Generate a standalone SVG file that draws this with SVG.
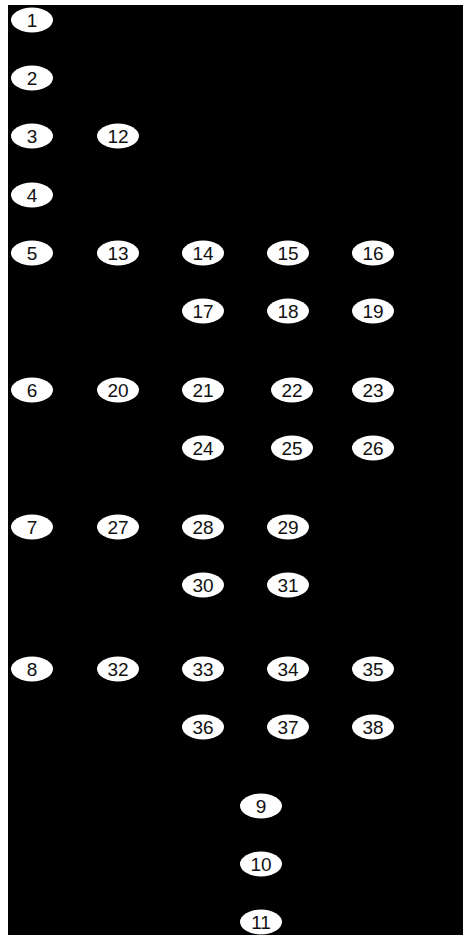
<svg xmlns="http://www.w3.org/2000/svg" width="463" height="935" viewBox="0 0 463 935">
<style>
.n ellipse{fill:#fff;stroke:none}
.n text{font-family:"Liberation Sans",Arial,sans-serif;font-size:19px;fill:#111;text-anchor:middle;dominant-baseline:central}
</style>
<rect x="0" y="0" width="463" height="935" fill="#fff"/>
<rect x="8" y="5" width="455" height="930" fill="#000"/>
<g id="connectors"></g>
<g id="n1" class="n"><ellipse cx="32" cy="20" rx="21" ry="12.5"/><text x="32" y="20">1</text></g>
<g id="n2" class="n"><ellipse cx="32" cy="78" rx="21" ry="12.5"/><text x="32" y="78">2</text></g>
<g id="n3" class="n"><ellipse cx="32" cy="136" rx="21" ry="12.5"/><text x="32" y="136">3</text></g>
<g id="n4" class="n"><ellipse cx="32" cy="195" rx="21" ry="12.5"/><text x="32" y="195">4</text></g>
<g id="n5" class="n"><ellipse cx="32" cy="253" rx="21" ry="12.5"/><text x="32" y="253">5</text></g>
<g id="n6" class="n"><ellipse cx="32" cy="390" rx="21" ry="12.5"/><text x="32" y="390">6</text></g>
<g id="n7" class="n"><ellipse cx="32" cy="527" rx="21" ry="12.5"/><text x="32" y="527">7</text></g>
<g id="n8" class="n"><ellipse cx="32" cy="669" rx="21" ry="12.5"/><text x="32" y="669">8</text></g>
<g id="n12" class="n"><ellipse cx="118" cy="136" rx="21" ry="12.5"/><text x="118" y="136">12</text></g>
<g id="n13" class="n"><ellipse cx="118" cy="253" rx="21" ry="12.5"/><text x="118" y="253">13</text></g>
<g id="n20" class="n"><ellipse cx="118" cy="390" rx="21" ry="12.5"/><text x="118" y="390">20</text></g>
<g id="n27" class="n"><ellipse cx="118" cy="527" rx="21" ry="12.5"/><text x="118" y="527">27</text></g>
<g id="n32" class="n"><ellipse cx="118" cy="669" rx="21" ry="12.5"/><text x="118" y="669">32</text></g>
<g id="n14" class="n"><ellipse cx="203" cy="253" rx="21" ry="12.5"/><text x="203" y="253">14</text></g>
<g id="n15" class="n"><ellipse cx="288" cy="253" rx="21" ry="12.5"/><text x="288" y="253">15</text></g>
<g id="n16" class="n"><ellipse cx="373" cy="253" rx="21" ry="12.5"/><text x="373" y="253">16</text></g>
<g id="n17" class="n"><ellipse cx="203" cy="311" rx="21" ry="12.5"/><text x="203" y="311">17</text></g>
<g id="n18" class="n"><ellipse cx="288" cy="311" rx="21" ry="12.5"/><text x="288" y="311">18</text></g>
<g id="n19" class="n"><ellipse cx="373" cy="311" rx="21" ry="12.5"/><text x="373" y="311">19</text></g>
<g id="n21" class="n"><ellipse cx="203" cy="390" rx="21" ry="12.5"/><text x="203" y="390">21</text></g>
<g id="n22" class="n"><ellipse cx="292" cy="390" rx="21" ry="12.5"/><text x="292" y="390">22</text></g>
<g id="n23" class="n"><ellipse cx="373" cy="390" rx="21" ry="12.5"/><text x="373" y="390">23</text></g>
<g id="n24" class="n"><ellipse cx="203" cy="448" rx="21" ry="12.5"/><text x="203" y="448">24</text></g>
<g id="n25" class="n"><ellipse cx="292" cy="448" rx="21" ry="12.5"/><text x="292" y="448">25</text></g>
<g id="n26" class="n"><ellipse cx="373" cy="448" rx="21" ry="12.5"/><text x="373" y="448">26</text></g>
<g id="n28" class="n"><ellipse cx="203" cy="527" rx="21" ry="12.5"/><text x="203" y="527">28</text></g>
<g id="n29" class="n"><ellipse cx="288" cy="527" rx="21" ry="12.5"/><text x="288" y="527">29</text></g>
<g id="n30" class="n"><ellipse cx="203" cy="585" rx="21" ry="12.5"/><text x="203" y="585">30</text></g>
<g id="n31" class="n"><ellipse cx="288" cy="585" rx="21" ry="12.5"/><text x="288" y="585">31</text></g>
<g id="n33" class="n"><ellipse cx="203" cy="669" rx="21" ry="12.5"/><text x="203" y="669">33</text></g>
<g id="n34" class="n"><ellipse cx="288" cy="669" rx="21" ry="12.5"/><text x="288" y="669">34</text></g>
<g id="n35" class="n"><ellipse cx="373" cy="669" rx="21" ry="12.5"/><text x="373" y="669">35</text></g>
<g id="n36" class="n"><ellipse cx="203" cy="727" rx="21" ry="12.5"/><text x="203" y="727">36</text></g>
<g id="n37" class="n"><ellipse cx="288" cy="727" rx="21" ry="12.5"/><text x="288" y="727">37</text></g>
<g id="n38" class="n"><ellipse cx="373" cy="727" rx="21" ry="12.5"/><text x="373" y="727">38</text></g>
<g id="n9" class="n"><ellipse cx="261" cy="806" rx="21" ry="12.5"/><text x="261" y="806">9</text></g>
<g id="n10" class="n"><ellipse cx="261" cy="864" rx="21" ry="12.5"/><text x="261" y="864">10</text></g>
<g id="n11" class="n"><ellipse cx="261" cy="922" rx="21" ry="12.5"/><text x="261" y="922">11</text></g>
</svg>
